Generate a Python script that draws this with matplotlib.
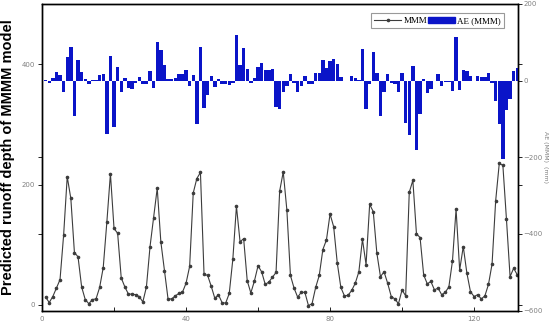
import matplotlib
matplotlib.use("Agg")
import matplotlib.pyplot as plt
from matplotlib.patches import Patch
from matplotlib.lines import Line2D
from matplotlib.ticker import FixedLocator

# predicted runoff depth (left axis), months 1..132
runoff = [13, 4, 14, 28, 42, 116, 213, 177, 87, 80, 30, 9, 2, 9, 10, 29, 62, 137, 218, 127,
          119, 45, 30, 18, 18, 17, 14, 5, 30, 97, 145, 194, 105, 57, 10, 10, 15, 19, 21, 36,
          64, 186, 210, 220, 51, 49, 31, 11, 17, 4, 3, 19, 76, 164, 105, 110, 40, 20, 40, 65,
          55, 34, 38, 46, 54, 189, 221, 158, 49, 28, 13, 21, 21, -1, 2, 29, 49, 92, 108, 151,
          130, 70, 29, 15, 16, 24, 36, 55, 109, 67, 167, 155, 86, 47, 55, 36, 14, 10, 2, 25,
          15, 187, 207, 118, 112, 50, 35, 39, 25, 28, 17, 21, 30, 73, 159, 58, 97, 53, 22, 14,
          17, 10, 15, 34, 68, 173, 235, 232, 142, 47, 61, 50]

# absolute error (right axis)
ae = [1, -5, 6, 22, 15, -30, 61, 87, -92, 55, 23, 4, -8, 1, 1, 14, 16, -139, 64, -121,
      35, -29, 6, -18, -22, -5, 9, -8, -10, 25, -20, 100, 81, 42, 3, 3, 6, 16, 16, 28,
      -13, 15, -113, 87, -72, -38, 13, -17, 5, -9, -10, -12, -6, 120, 42, 85, 29, -6, 7, 35,
      47, 27, 27, 30, -68, -74, -30, -13, 18, -7, -29, -13, 13, -10, -10, 19, 19, 54, 34, 52,
      56, 43, 9, 0, 0, 13, 8, 1, 83, -75, -10, 74, 20, -93, -29, 18, -6, -9, -29, 20,
      -110, -142, 38, -180, -87, 4, -32, -23, -2, 16, -13, -4, -4, -28, 113, -25, 27, 24, 11, 0,
      11, 10, 10, 20, -6, -54, -112, -205, -77, -48, 24, 33]

months = list(range(1, len(runoff) + 1))

fig = plt.figure(figsize=(5.5, 3.27), dpi=100)
ax = fig.add_axes([0.0764, 0.050, 0.8654, 0.938])
ax2 = ax.twinx()

line_color = "#3c3c3c"
bar_color = "#0a14c8"
tick_gray = "#808080"

ax.plot(months, runoff, color=line_color, lw=0.8, marker="o", ms=1.6, mfc=line_color, mec=line_color)
ax2.bar(months, ae, width=0.95, color=bar_color, linewidth=0)

ax.set_xlim(0, 132.2)
ax.set_ylim(-9.5, 500)
ax2.set_ylim(-600, 200)

ax.set_xticks([0, 40, 80, 120])
ax.xaxis.set_minor_locator(FixedLocator([20, 60, 100]))
ax.set_yticks([0, 200, 400])
ax.yaxis.set_minor_locator(FixedLocator([118, 245]))
ax2.set_yticks([-600, -400, -200, 0, 200])
ax2.yaxis.set_minor_locator(FixedLocator([-585, -271, 43]))

ax.tick_params(axis="x", which="both", direction="in", length=3, width=0.6,
               labelsize=5, labelcolor=tick_gray, pad=4)
ax.tick_params(axis="y", which="both", direction="out", length=3, width=0.6,
               labelsize=5, labelcolor=tick_gray, pad=2)
ax2.tick_params(axis="y", which="both", direction="out", length=3, width=0.6,
                labelsize=5, labelcolor=tick_gray, pad=1)

for sp in ax.spines.values():
    sp.set_linewidth(1.0)
for sp in ax2.spines.values():
    sp.set_linewidth(1.0)

ax.set_ylabel("Predicted runoff depth of MMMM model", fontsize=10.5, fontweight="bold",
              family="Liberation Sans", labelpad=5)
ax2.set_ylabel("AE (MMM)  (mm)", fontsize=4.5, color=tick_gray, rotation=270, va="center")
ax2.yaxis.set_label_coords(1.058, 0.5)

handles = [Line2D([], [], color=line_color, lw=0.8, marker="o", ms=1.6),
           Patch(facecolor=bar_color, edgecolor=bar_color)]
leg = ax2.legend(handles, ["MMM", "AE (MMM)"], loc="upper right", bbox_to_anchor=(0.975, 0.975),
                 ncol=2, fancybox=False, edgecolor="#999999", framealpha=1,
                 prop={"family": "Liberation Serif", "size": 6.5},
                 handlelength=3.0, handletextpad=0.3, columnspacing=0.0,
                 borderpad=0.35, borderaxespad=0.2)
leg.get_frame().set_linewidth(0.8)

fig.savefig("out.png", dpi=100)
